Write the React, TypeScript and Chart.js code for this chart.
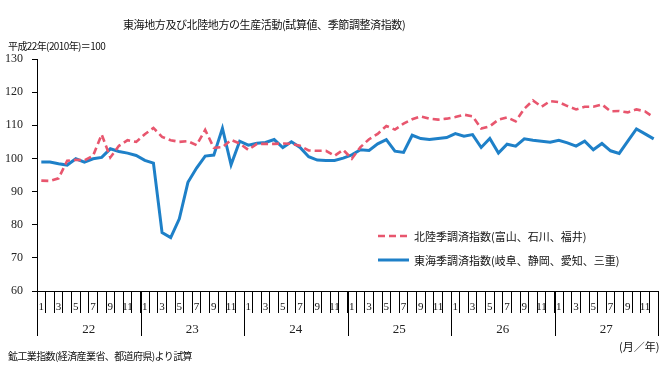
import React, { useEffect, useRef } from "react";
import { Chart, registerables } from "chart.js";

Chart.register(...registerables);

const years = ["22", "23", "24", "25", "26", "27"];
const months = ["1", "2", "3", "4", "5", "6", "7", "8", "9", "10", "11", "12"];

// 北陸季調済指数(富山、石川、福井)
const hokuriku = [
  93.3, 93.2, 94.0, 99.3, 99.6, 99.4, 100.8, 107.2, 100.3, 103.8, 105.5, 105.0,
  107.3, 109.2, 106.5, 105.5, 105.0, 105.2, 104.0, 108.6, 103.2, 103.4, 105.6, 104.5,
  102.6, 104.4, 104.4, 104.4, 104.5, 104.4, 103.8, 102.4, 102.3, 102.3, 100.8, 102.6,
  99.9, 103.4, 105.8, 107.4, 109.8, 108.7, 110.5, 111.8, 112.7, 112.0, 111.7, 112.0,
  112.5, 113.2, 112.7, 109.0, 109.7, 111.7, 112.4, 111.2, 115.0, 117.5, 115.6, 117.3,
  117.0, 115.8, 114.8, 115.6, 115.6, 116.3, 114.2, 114.3, 113.9, 114.8, 114.2, 112.4,
];

// 東海季調済指数(岐阜、静岡、愛知、三重)
const tokai = [
  98.9, 98.9, 98.4, 98.0, 99.9, 98.9, 99.9, 100.3, 102.9, 102.1, 101.6, 100.9,
  99.4, 98.6, 77.6, 76.1, 81.8, 92.8, 97.1, 100.7, 101.0, 109.1, 98.1, 105.2,
  104.0, 104.6, 104.8, 105.7, 103.3, 105.0, 103.3, 100.5, 99.5, 99.4, 99.4, 100.1,
  101.1, 102.6, 102.4, 104.4, 105.7, 102.2, 101.8, 107.0, 106.0, 105.7, 106.0, 106.3,
  107.5, 106.7, 107.2, 103.3, 106.0, 101.6, 104.3, 103.7, 105.9, 105.5, 105.2, 104.9,
  105.5, 104.7, 103.7, 105.2, 102.6, 104.5, 102.3, 101.5, 105.2, 108.9, 107.4, 105.9,
];

const yMin = 60;
const yMax = 130;
const yStep = 10;

const RED = "#E8566E";
const BLUE = "#1E80C8";
const JP = "'Noto Sans CJK JP', 'Noto Sans', sans-serif";

const labels = years.flatMap((y) => months.map((m) => `${y}/${m}`));

const yearAxisPlugin = {
  id: "yearAxis",
  afterDraw(chart: any) {
    const { ctx, chartArea, scales } = chart;
    const xs = scales.x;
    const w = xs.getPixelForValue(1) - xs.getPixelForValue(0);
    const bottom = chartArea.bottom;
    ctx.save();
    ctx.strokeStyle = "#000";
    ctx.lineWidth = 1;
    ctx.fillStyle = "#222";
    ctx.font = "13px 'Liberation Serif', serif";
    ctx.textAlign = "center";
    ctx.textBaseline = "middle";
    years.forEach((yr, yi) => {
      const start = xs.getPixelForValue(yi * 12) - w / 2;
      const end = xs.getPixelForValue(yi * 12 + 11) + w / 2;
      const sx = Math.round(start) + 0.5;
      ctx.beginPath();
      ctx.moveTo(sx, bottom);
      ctx.lineTo(sx, bottom + 45);
      ctx.stroke();
      if (yi === years.length - 1) {
        const ex = Math.round(end) + 0.5;
        ctx.beginPath();
        ctx.moveTo(ex, bottom);
        ctx.lineTo(ex, bottom + 45);
        ctx.stroke();
      }
      ctx.fillText(yr, (start + end) / 2, bottom + 39);
    });
    ctx.restore();
  },
};

export default function App() {
  const ref = useRef<HTMLCanvasElement | null>(null);

  useEffect(() => {
    if (!ref.current) return;
    const chart = new Chart(ref.current, {
      type: "line",
      data: {
        labels,
        datasets: [
          {
            label: "北陸季調済指数(富山、石川、福井)",
            data: hokuriku,
            borderColor: RED,
            backgroundColor: RED,
            borderWidth: 2.6,
            borderDash: [7, 4],
            pointRadius: 0,
            tension: 0,
            fill: false,
          },
          {
            label: "東海季調済指数(岐阜、静岡、愛知、三重)",
            data: tokai,
            borderColor: BLUE,
            backgroundColor: BLUE,
            borderWidth: 3,
            pointRadius: 0,
            tension: 0,
            fill: false,
          },
        ],
      },
      options: {
        responsive: false,
        animation: false,
        devicePixelRatio: 1,
        layout: { padding: { top: 59, right: 12, left: 0, bottom: 0 } },
        plugins: {
          legend: { display: false },
          title: { display: false },
          tooltip: { enabled: false },
        },
        scales: {
          x: {
            type: "category",
            offset: true,
            border: { color: "#000", width: 1 },
            grid: {
              offset: true,
              drawOnChartArea: false,
              tickLength: 22,
              color: "#000",
            },
            ticks: {
              autoSkip: false,
              maxRotation: 0,
              minRotation: 0,
              padding: -12,
              color: "#111",
              font: { family: "'Liberation Serif', serif", size: 11 },
              callback: (_v: any, i: number) => (i % 2 === 0 ? months[i % 12] : ""),
            },
            afterFit: (s: any) => {
              s.height = 78;
            },
          },
          y: {
            min: yMin,
            max: yMax,
            border: { color: "#000", width: 1 },
            grid: { drawOnChartArea: false, tickLength: 5, color: "#000" },
            ticks: {
              stepSize: yStep,
              padding: 9,
              color: "#222",
              font: { family: "'Liberation Serif', serif", size: 12 },
            },
            afterFit: (s: any) => {
              s.width = 37;
            },
          },
        },
      },
      plugins: [yearAxisPlugin],
    });
    return () => chart.destroy();
  }, []);

  const txt = (extra: React.CSSProperties): React.CSSProperties => ({
    position: "absolute",
    fontFamily: JP,
    color: "#111",
    whiteSpace: "nowrap",
    lineHeight: 1,
    ...extra,
  });

  return (
    <div style={{ position: "fixed", left: 0, top: 0, width: 670, height: 369, background: "#fff" }}>
      <canvas ref={ref} width={670} height={369} style={{ position: "absolute", left: 0, top: 0 }} />
      <div style={txt({ left: 123, top: 19, fontSize: 11, letterSpacing: "-0.4px" })}>
        東海地方及び北陸地方の生産活動(試算値、季節調整済指数)
      </div>
      <div style={txt({ left: 8, top: 41, fontSize: 10, letterSpacing: "-0.6px" })}>
        平成22年(2010年)＝100
      </div>
      <div style={txt({ left: 8, top: 351, fontSize: 10, letterSpacing: "-0.6px" })}>
        鉱工業指数(経済産業省、都道府県)より試算
      </div>
      <div style={txt({ left: 619, top: 341, fontSize: 11 })}>(月／年)</div>
      <div style={{ position: "absolute", left: 378, top: 228 }}>
        <div style={{ display: "flex", alignItems: "center", height: 16 }}>
          <svg width={31} height={6} style={{ display: "block" }}>
            <line x1={0} y1={3} x2={31} y2={3} stroke={RED} strokeWidth={2.6} strokeDasharray="7 4" />
          </svg>
          <span style={{ fontFamily: JP, fontSize: 11, color: "#111", marginLeft: 5, whiteSpace: "nowrap" }}>
            北陸季調済指数(富山、石川、福井)
          </span>
        </div>
        <div style={{ display: "flex", alignItems: "center", height: 16, marginTop: 8 }}>
          <svg width={31} height={6} style={{ display: "block" }}>
            <line x1={0} y1={3} x2={31} y2={3} stroke={BLUE} strokeWidth={3} />
          </svg>
          <span style={{ fontFamily: JP, fontSize: 11, color: "#111", marginLeft: 5, whiteSpace: "nowrap" }}>
            東海季調済指数(岐阜、静岡、愛知、三重)
          </span>
        </div>
      </div>
    </div>
  );
}
